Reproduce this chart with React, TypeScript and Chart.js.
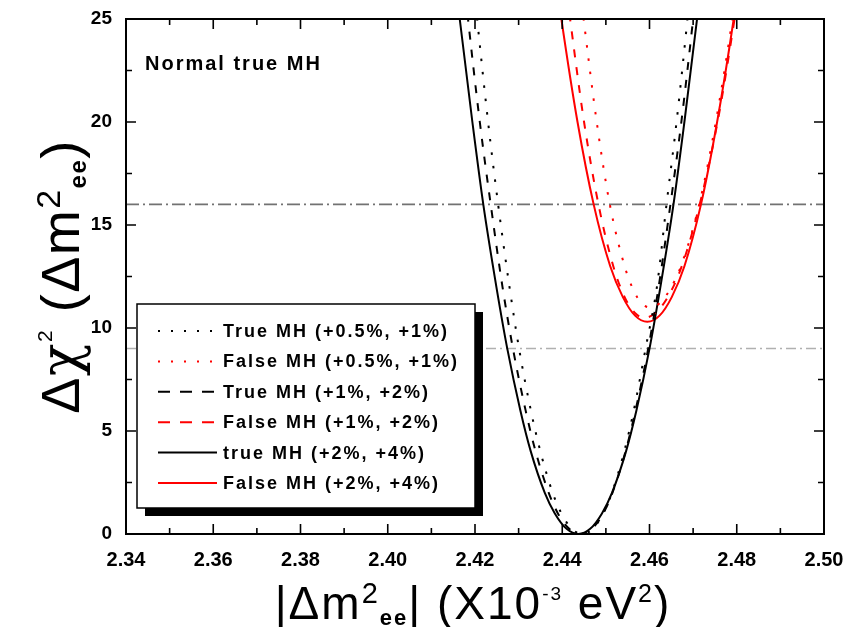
import React, { useEffect, useRef } from "react";
import { Chart, registerables } from "chart.js";

Chart.register(...registerables);

// Axis ranges and tick steps
const X_MIN = 2.34;
const X_MAX = 2.5;
const Y_MIN = 0;
const Y_MAX = 25;
const X_MAJOR = 0.02;
const X_MINOR = 0.01;
const Y_MAJOR = 5;
const Y_MINOR = 2.5;

type Pt = [number, number];

// Δχ² curves, [|Δm²ee| (1e-3 eV²), Δχ²]
const trueDotted: Pt[] = [
  [2.4196, 27], [2.4205, 25], [2.4230, 20], [2.4253, 16], [2.4279, 12], [2.4301, 9],
  [2.4328, 6], [2.4350, 4], [2.4378, 2], [2.4398, 1], [2.4422, 0.25], [2.4446, 0],
  [2.4470, 0.25], [2.4494, 1], [2.4514, 2], [2.4542, 4], [2.4564, 6], [2.4591, 9],
  [2.4617, 12], [2.4639, 16], [2.4662, 20], [2.4687, 25], [2.4696, 27],
];
const falseDotted: Pt[] = [
  [2.4438, 27], [2.4449, 25], [2.4479, 20], [2.4509, 16], [2.4543, 13], [2.4564, 11.8],
  [2.4582, 11.2], [2.4600, 11.0], [2.4623, 11.2], [2.4645, 11.8], [2.4672, 13],
  [2.4714, 16], [2.4752, 20], [2.4790, 25], [2.4803, 27],
];
const trueDashed: Pt[] = [
  [2.4174, 27], [2.4184, 25], [2.4211, 20], [2.4236, 16], [2.4263, 12], [2.4287, 9],
  [2.4316, 6], [2.4339, 4], [2.4369, 2], [2.4390, 1], [2.4416, 0.25], [2.4442, 0],
  [2.4468, 0.25], [2.4494, 1], [2.4515, 2], [2.4545, 4], [2.4568, 6], [2.4597, 9],
  [2.4621, 12], [2.4648, 16], [2.4673, 20], [2.4700, 25], [2.4710, 27],
];
const falseDashed: Pt[] = [
  [2.4406, 27], [2.4418, 25], [2.4450, 20], [2.4483, 16], [2.4517, 13], [2.4543, 11.5],
  [2.4568, 10.7], [2.4588, 10.5], [2.4612, 10.7], [2.4642, 11.5], [2.4674, 13],
  [2.4715, 16], [2.4756, 20], [2.4795, 25], [2.4809, 27],
];
const trueSolid: Pt[] = [
  [2.4154, 27], [2.4165, 25], [2.4194, 20], [2.4219, 16], [2.4249, 12], [2.4274, 9],
  [2.4304, 6], [2.4328, 4], [2.4360, 2], [2.4383, 1], [2.4410, 0.25], [2.4437, 0],
  [2.4464, 0.25], [2.4491, 1], [2.4514, 2], [2.4546, 4], [2.4570, 6], [2.4600, 9],
  [2.4625, 12], [2.4655, 16], [2.4680, 20], [2.4709, 25], [2.4720, 27],
];
const falseSolid: Pt[] = [
  [2.4385, 27], [2.4398, 25], [2.4435, 20], [2.4472, 16], [2.4510, 13], [2.4539, 11.5],
  [2.4567, 10.6], [2.4595, 10.3], [2.4623, 10.6], [2.4651, 11.5], [2.4680, 13],
  [2.4718, 16], [2.4755, 20], [2.4793, 25], [2.4806, 27],
];

// Reference levels (Δχ² = 16 and 9)
const level16: Pt[] = [[X_MIN, 16], [X_MAX, 16]];
const level9: Pt[] = [[X_MIN, 9], [X_MAX, 9]];

const seriesLabels = [
  "True MH (+0.5%, +1%)",
  "False MH (+0.5%, +1%)",
  "True MH (+1%, +2%)",
  "False MH (+1%, +2%)",
  "true MH (+2%, +4%)",
  "False MH (+2%, +4%)",
];
const seriesData = [trueDotted, falseDotted, trueDashed, falseDashed, trueSolid, falseSolid];
const seriesColors = ["#000000", "#ff0000", "#000000", "#ff0000", "#000000", "#ff0000"];
const seriesStyles = ["dot", "dot", "dash", "dash", "solid", "solid"];

const noteText = "Normal true MH";

const FONT = "'Liberation Sans', Arial, sans-serif";
const GREEK = "'DejaVu Serif', 'Liberation Serif', serif";

// Plot rectangle on the page
const AREA = { left: 126, right: 824, top: 19, bottom: 534 };

const curveDash = (s: string) => (s === "dot" ? [2.5, 11] : s === "dash" ? [8, 10] : []);
const legendDash = (s: string) => (s === "dot" ? [2, 11] : s === "dash" ? [12, 10] : []);

type Piece = { t: string; size: number; bold?: boolean; rise?: number; family?: string };

function drawRich(ctx: CanvasRenderingContext2D, pieces: Piece[], cx: number, baseY: number, spacing: number) {
  const fontOf = (p: Piece) => `${p.bold ? "bold " : ""}${p.size}px ${p.family || FONT}`;
  const widths = pieces.map((p) => {
    ctx.font = fontOf(p);
    (ctx as any).letterSpacing = `${spacing}px`;
    return ctx.measureText(p.t).width;
  });
  const total = widths.reduce((a, b) => a + b, 0);
  let x = cx - total / 2;
  pieces.forEach((p, i) => {
    ctx.font = fontOf(p);
    (ctx as any).letterSpacing = `${spacing}px`;
    ctx.fillText(p.t, x, baseY - (p.rise || 0));
    x += widths[i];
  });
}

const decorPlugin = {
  id: "decor",
  afterDatasetsDraw(chart: any) {
    const { ctx, chartArea: a, scales } = chart;
    const xs = scales.x;
    const ys = scales.y;
    ctx.save();

    // Frame
    ctx.strokeStyle = "#000";
    ctx.lineWidth = 2;
    ctx.setLineDash([]);
    ctx.strokeRect(a.left, a.top, a.right - a.left, a.bottom - a.top);

    // Inward ticks on all four sides
    ctx.lineWidth = 1.6;
    ctx.beginPath();
    const nx = Math.round((X_MAX - X_MIN) / X_MINOR);
    for (let i = 1; i < nx; i++) {
      const v = X_MIN + i * X_MINOR;
      const len = i % Math.round(X_MAJOR / X_MINOR) === 0 ? 10 : 6;
      const px = xs.getPixelForValue(v);
      ctx.moveTo(px, a.bottom);
      ctx.lineTo(px, a.bottom - len);
      ctx.moveTo(px, a.top);
      ctx.lineTo(px, a.top + len);
    }
    const ny = Math.round((Y_MAX - Y_MIN) / Y_MINOR);
    for (let i = 1; i < ny; i++) {
      const v = Y_MIN + i * Y_MINOR;
      const len = i % Math.round(Y_MAJOR / Y_MINOR) === 0 ? 10 : 6;
      const py = ys.getPixelForValue(v);
      ctx.moveTo(a.left, py);
      ctx.lineTo(a.left + len, py);
      ctx.moveTo(a.right, py);
      ctx.lineTo(a.right - len, py);
    }
    ctx.stroke();

    // Legend box with drop shadow
    const bx = 137, by = 304, bw = 338, bh = 204;
    ctx.fillStyle = "#000";
    ctx.fillRect(bx + 8, by + 8, bw, bh);
    ctx.fillStyle = "#fff";
    ctx.fillRect(bx, by, bw, bh);
    ctx.strokeStyle = "#000";
    ctx.lineWidth = 1.5;
    ctx.strokeRect(bx, by, bw, bh);

    ctx.textBaseline = "middle";
    ctx.textAlign = "left";
    seriesLabels.forEach((label, i) => {
      const y = 331 + i * 30.4;
      ctx.strokeStyle = seriesColors[i];
      ctx.lineWidth = 2;
      ctx.setLineDash(legendDash(seriesStyles[i]));
      ctx.beginPath();
      ctx.moveTo(158, y);
      ctx.lineTo(217, y);
      ctx.stroke();
      ctx.setLineDash([]);
      ctx.fillStyle = "#000";
      ctx.font = `bold 18px ${FONT}`;
      (ctx as any).letterSpacing = "2px";
      ctx.fillText(label, 223, y + 1);
    });

    // Note in the upper-left corner
    ctx.font = `bold 20px ${FONT}`;
    (ctx as any).letterSpacing = "2px";
    ctx.fillStyle = "#000";
    ctx.fillText(noteText, 145, 64);

    // Axis titles
    ctx.textBaseline = "alphabetic";
    ctx.fillStyle = "#000";
    drawRich(
      ctx,
      [
        { t: "|\u0394m", size: 46 },
        { t: "2", size: 29, rise: 16 },
        { t: "ee", size: 22, bold: true, rise: -6 },
        { t: "| (X10", size: 46 },
        { t: "-3", size: 19, rise: 19 },
        { t: " eV", size: 46 },
        { t: "2", size: 25, rise: 17 },
        { t: ")", size: 46 },
      ],
      (a.left + a.right) / 2 - 2,
      619,
      2
    );

    ctx.save();
    ctx.translate(79, (a.top + a.bottom) / 2);
    ctx.rotate(-Math.PI / 2);
    drawRich(
      ctx,
      [
        { t: "\u0394", size: 54 },
        { t: "\u03c7", size: 54, family: GREEK },
        { t: "2", size: 21, rise: 27 },
        { t: " (\u0394m", size: 54 },
        { t: "2", size: 34, rise: 19 },
        { t: "ee", size: 24, bold: true, rise: -7 },
        { t: ")", size: 54 },
      ],
      0,
      0,
      1.5
    );
    ctx.restore();

    ctx.restore();
  },
};

export default function App() {
  const canvasRef = useRef<HTMLCanvasElement | null>(null);

  useEffect(() => {
    document.body.style.margin = "0";
    const canvas = canvasRef.current;
    if (!canvas) return;

    const toXY = (pts: Pt[]) => pts.map(([x, y]) => ({ x, y }));

    const curveSets = seriesData.map((pts, i) => ({
      label: seriesLabels[i],
      data: toXY(pts),
      borderColor: seriesColors[i],
      borderWidth: 2,
      borderDash: curveDash(seriesStyles[i]),
      pointRadius: 0,
      cubicInterpolationMode: "monotone" as const,
      fill: false,
      order: 1,
    }));

    const chart = new Chart(canvas, {
      type: "line",
      data: {
        datasets: [
          {
            label: "",
            data: toXY(level16),
            borderColor: "#727272",
            borderWidth: 1.6,
            borderDash: [13, 4, 2, 4],
            pointRadius: 0,
            order: 10,
          },
          {
            label: "",
            data: toXY(level9),
            borderColor: "#b0b0b0",
            borderWidth: 1.5,
            borderDash: [10, 4, 2, 4],
            pointRadius: 0,
            order: 10,
          },
          ...curveSets,
        ],
      },
      options: {
        animation: false,
        responsive: false,
        devicePixelRatio: 1,
        layout: { padding: { top: AREA.top, right: 864 - AREA.right, left: 0, bottom: 0 } },
        plugins: {
          legend: { display: false },
          tooltip: { enabled: false },
        },
        scales: {
          x: {
            type: "linear",
            min: X_MIN,
            max: X_MAX,
            grid: { display: false, drawTicks: false },
            border: { display: false },
            ticks: {
              stepSize: X_MAJOR,
              padding: 14,
              color: "#000",
              font: { family: FONT, size: 20, weight: "bold" },
              maxRotation: 0,
              callback: (v: any) => Number(v).toFixed(2),
            },
            afterFit: (s: any) => {
              s.height = 627 - AREA.bottom;
              s.paddingLeft = 0;
              s.paddingRight = 0;
              s.paddingTop = 0;
              s.paddingBottom = 0;
            },
          },
          y: {
            type: "linear",
            min: Y_MIN,
            max: Y_MAX,
            grid: { display: false, drawTicks: false },
            border: { display: false },
            ticks: {
              stepSize: Y_MAJOR,
              padding: 14,
              color: "#000",
              font: { family: FONT, size: 19, weight: "bold" },
            },
            afterFit: (s: any) => {
              s.width = AREA.left;
              s.paddingLeft = 0;
              s.paddingRight = 0;
              s.paddingTop = 0;
              s.paddingBottom = 0;
            },
          },
        },
      },
      plugins: [decorPlugin],
    });

    return () => chart.destroy();
  }, []);

  return (
    <div style={{ width: 864, height: 627, background: "#fff" }}>
      <canvas ref={canvasRef} width={864} height={627} style={{ display: "block" }} />
    </div>
  );
}
